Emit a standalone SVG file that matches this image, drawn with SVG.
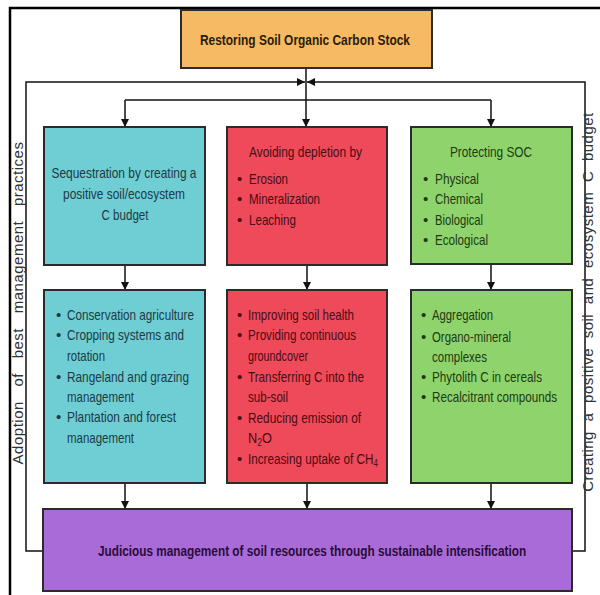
<svg xmlns="http://www.w3.org/2000/svg" width="600" height="595" viewBox="0 0 600 595">
<style>
.box{stroke:#2b2b2b;stroke-width:2}
.t{font-family:"Liberation Sans",Arial,sans-serif;font-size:15px}
.b{font-weight:bold}
.c{text-anchor:middle}
.cy{fill:#1d3b44}
.rd{fill:#4a0c14}
.gr{fill:#1d3a12}
.pu{fill:#2a0c3a}
.ti{fill:#2a1c0a}
.side{font-family:"Liberation Sans",Arial,sans-serif;font-size:15px;fill:#333;text-anchor:middle;letter-spacing:0.5px}
.ln{fill:none;stroke:#111;stroke-width:1.5}
</style>
<defs>
<marker id="ah" viewBox="0 0 10 10" refX="10" refY="5" markerWidth="8" markerHeight="8" markerUnits="userSpaceOnUse" orient="auto"><path d="M0,0 L10,5 L0,10 z" fill="#111"/></marker>
</defs>
<rect width="600" height="595" fill="#fff"/>
<path d="M10,595 V8 H600" fill="none" stroke="#000" stroke-width="2.5"/>

<g id="connectors">
<path class="ln" d="M306,68 V127" marker-end="url(#ah)"/>
<path class="ln" d="M125,100 H491"/>
<path class="ln" d="M125,100 V127" marker-end="url(#ah)"/>
<path class="ln" d="M491,100 V127" marker-end="url(#ah)"/>
<path class="ln" d="M43,551 H26 V82 H305" marker-end="url(#ah)"/>
<path class="ln" d="M572,551 H585 V82 H307" marker-end="url(#ah)"/>
<path class="ln" d="M125,265 V290" marker-end="url(#ah)"/>
<path class="ln" d="M307,265 V290" marker-end="url(#ah)"/>
<path class="ln" d="M491,264 V290" marker-end="url(#ah)"/>
<path class="ln" d="M125,483 V509" marker-end="url(#ah)"/>
<path class="ln" d="M307,483 V509" marker-end="url(#ah)"/>
<path class="ln" d="M491,483 V509" marker-end="url(#ah)"/>
</g>

<g id="restoring">
<rect class="box" x="181" y="10" width="251" height="58" fill="#F6B964"/>
<text class="t b c ti" x="305" y="45" textLength="210" lengthAdjust="spacingAndGlyphs">Restoring Soil Organic Carbon Stock</text>
</g>

<g id="sequestration">
<rect class="box" x="44" y="127" width="161" height="138" fill="#6FCDD4"/>
<text class="t c cy" x="124" y="178" textLength="145" lengthAdjust="spacingAndGlyphs">Sequestration by creating a</text>
<text class="t c cy" x="124" y="199" textLength="122" lengthAdjust="spacingAndGlyphs">positive soil/ecosystem</text>
<text class="t c cy" x="125" y="220" textLength="47" lengthAdjust="spacingAndGlyphs">C budget</text>
</g>

<g id="avoiding">
<rect class="box" x="227" y="127" width="160" height="138" fill="#EE4A5A"/>
<text class="t rd" x="249" y="157" textLength="113" lengthAdjust="spacingAndGlyphs">Avoiding depletion by</text>
<text class="t rd" x="237" y="184">•</text><text class="t rd" x="249" y="184" textLength="39" lengthAdjust="spacingAndGlyphs">Erosion</text>
<text class="t rd" x="237" y="204">•</text><text class="t rd" x="249" y="204" textLength="71" lengthAdjust="spacingAndGlyphs">Mineralization</text>
<text class="t rd" x="237" y="225">•</text><text class="t rd" x="249" y="225" textLength="47" lengthAdjust="spacingAndGlyphs">Leaching</text>
</g>

<g id="protecting">
<rect class="box" x="411" y="127" width="161" height="137" fill="#8FD36C"/>
<text class="t c gr" x="491" y="157" textLength="82" lengthAdjust="spacingAndGlyphs">Protecting SOC</text>
<text class="t gr" x="423" y="184">•</text><text class="t gr" x="435" y="184" textLength="44" lengthAdjust="spacingAndGlyphs">Physical</text>
<text class="t gr" x="423" y="204">•</text><text class="t gr" x="435" y="204" textLength="48" lengthAdjust="spacingAndGlyphs">Chemical</text>
<text class="t gr" x="423" y="225">•</text><text class="t gr" x="435" y="225" textLength="48" lengthAdjust="spacingAndGlyphs">Biological</text>
<text class="t gr" x="423" y="245">•</text><text class="t gr" x="435" y="245" textLength="53" lengthAdjust="spacingAndGlyphs">Ecological</text>
</g>

<g id="practices">
<rect class="box" x="44" y="290" width="161" height="193" fill="#6FCDD4"/>
<text class="t cy" x="56" y="320">•</text><text class="t cy" x="67" y="320" textLength="127" lengthAdjust="spacingAndGlyphs">Conservation agriculture</text>
<text class="t cy" x="56" y="340">•</text><text class="t cy" x="67" y="340" textLength="117" lengthAdjust="spacingAndGlyphs">Cropping systems and</text>
<text class="t cy" x="67" y="361" textLength="38" lengthAdjust="spacingAndGlyphs">rotation</text>
<text class="t cy" x="56" y="382">•</text><text class="t cy" x="67" y="382" textLength="122" lengthAdjust="spacingAndGlyphs">Rangeland and grazing</text>
<text class="t cy" x="67" y="402" textLength="67" lengthAdjust="spacingAndGlyphs">management</text>
<text class="t cy" x="56" y="422">•</text><text class="t cy" x="67" y="422" textLength="109" lengthAdjust="spacingAndGlyphs">Plantation and forest</text>
<text class="t cy" x="67" y="443" textLength="67" lengthAdjust="spacingAndGlyphs">management</text>
</g>

<g id="soil-health">
<rect class="box" x="227" y="290" width="160" height="193" fill="#EE4A5A"/>
<text class="t rd" x="237" y="320">•</text><text class="t rd" x="248" y="320" textLength="106" lengthAdjust="spacingAndGlyphs">Improving soil health</text>
<text class="t rd" x="237" y="340">•</text><text class="t rd" x="248" y="340" textLength="108" lengthAdjust="spacingAndGlyphs">Providing continuous</text>
<text class="t rd" x="248" y="361" textLength="60" lengthAdjust="spacingAndGlyphs">groundcover</text>
<text class="t rd" x="237" y="382">•</text><text class="t rd" x="248" y="382" textLength="116" lengthAdjust="spacingAndGlyphs">Transferring C into the</text>
<text class="t rd" x="248" y="402" textLength="40" lengthAdjust="spacingAndGlyphs">sub-soil</text>
<text class="t rd" x="237" y="423">•</text><text class="t rd" x="248" y="423" textLength="113" lengthAdjust="spacingAndGlyphs">Reducing emission of</text>
<text class="t rd" x="248" y="443" transform="translate(248,443) scale(0.85,1) translate(-248,-443)">N<tspan font-size="10" baseline-shift="-3">2</tspan>O</text>
<text class="t rd" x="237" y="464">•</text><text class="t rd" x="248" y="464" transform="translate(248,464) scale(0.78,1) translate(-248,-464)">Increasing uptake of CH<tspan font-size="10" baseline-shift="-3">4</tspan></text>
</g>

<g id="protection-mechanisms">
<rect class="box" x="411" y="290" width="161" height="193" fill="#8FD36C"/>
<text class="t gr" x="421" y="320">•</text><text class="t gr" x="432" y="320" textLength="61" lengthAdjust="spacingAndGlyphs">Aggregation</text>
<text class="t gr" x="421" y="342">•</text><text class="t gr" x="432" y="342" textLength="79" lengthAdjust="spacingAndGlyphs">Organo-mineral</text>
<text class="t gr" x="432" y="362" textLength="55" lengthAdjust="spacingAndGlyphs">complexes</text>
<text class="t gr" x="421" y="382">•</text><text class="t gr" x="432" y="382" textLength="110" lengthAdjust="spacingAndGlyphs">Phytolith C in cereals</text>
<text class="t gr" x="421" y="402">•</text><text class="t gr" x="432" y="402" textLength="125" lengthAdjust="spacingAndGlyphs">Recalcitrant compounds</text>
</g>

<g id="judicious">
<rect class="box" x="43" y="509" width="529" height="82" fill="#A96BD7"/>
<text class="t b c pu" x="0" y="0" font-size="14" transform="translate(312,556) scale(0.78,1)" textLength="549" lengthAdjust="spacingAndGlyphs">Judicious management of soil resources through sustainable intensification</text>
</g>

<g id="side-labels">
<text class="side" transform="translate(23,303) rotate(-90)" word-spacing="10">Adoption of best management practices</text>
<text class="side" transform="translate(593,302) rotate(-90)" word-spacing="5">Creating a positive soil and ecosystem C budget</text>
</g>
</svg>
